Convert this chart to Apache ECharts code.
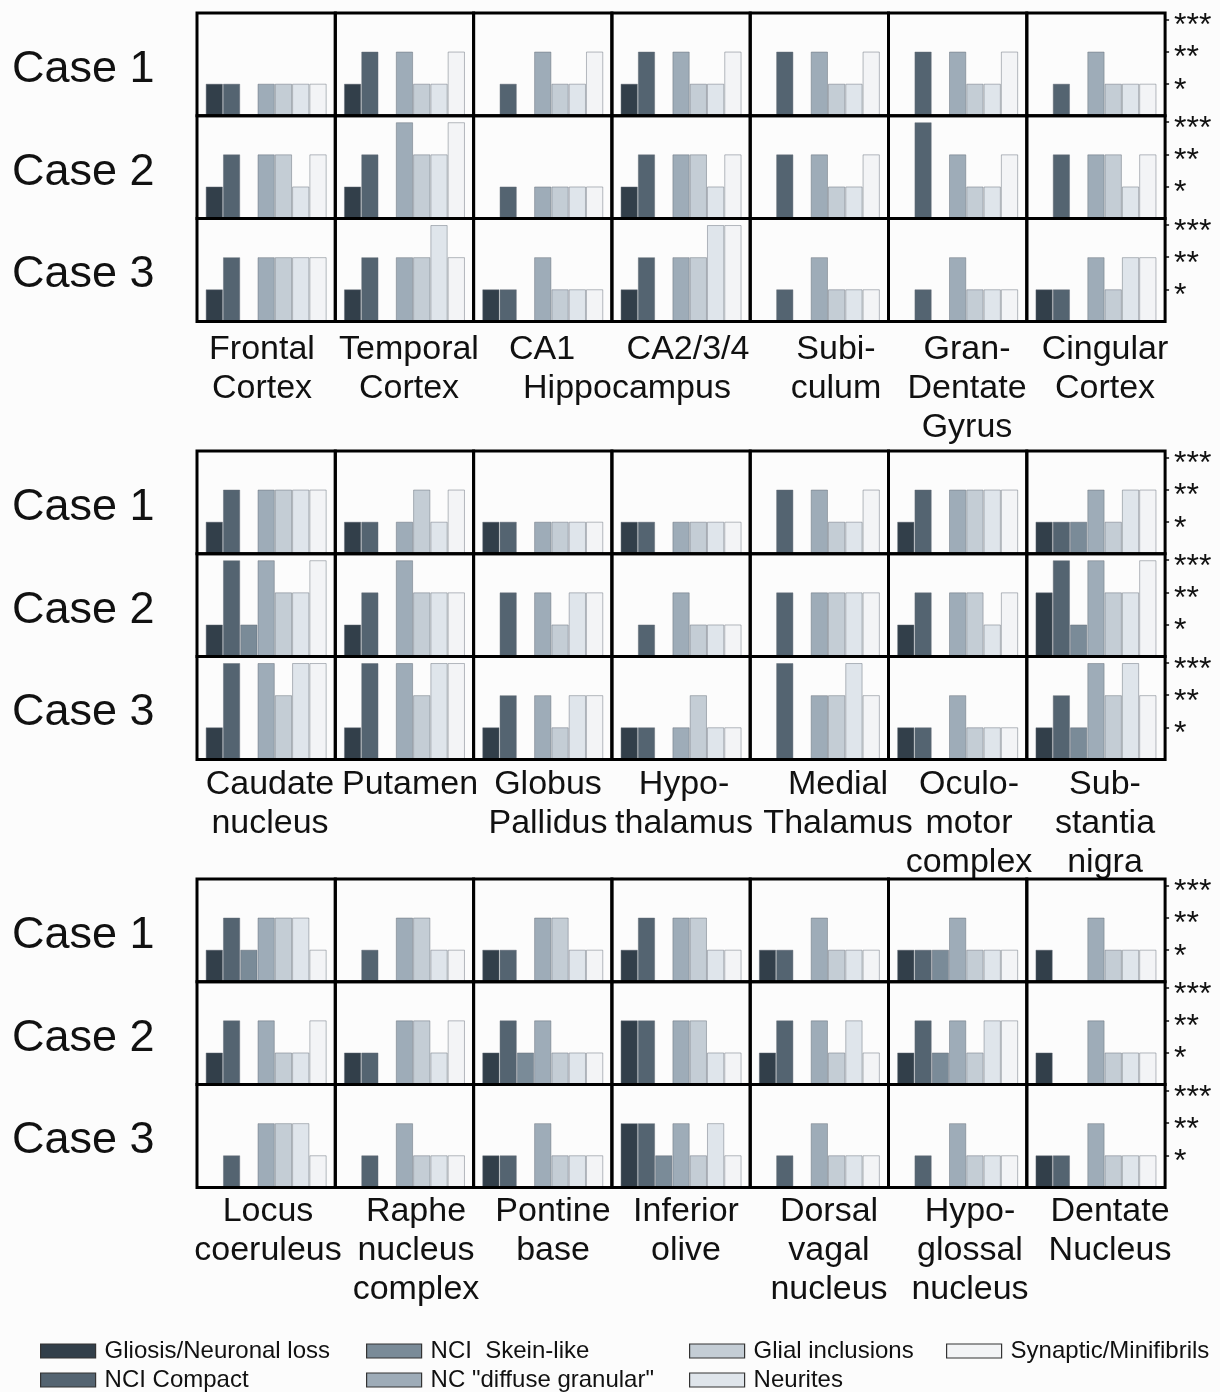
<!DOCTYPE html>
<html>
<head>
<meta charset="utf-8">
<script src="https://cdn.jsdelivr.net/npm/echarts@6/dist/echarts.min.js"></script>
<style>
  html, body { margin: 0; padding: 0; background: #fcfcfc; }
  #grafico { width: 1220px; height: 1392px; }
</style>
</head>
<body>
<div id="grafico"></div>
<script>
// categorias de lesion (orden de las barras en cada panel)
const categories = ['Gliosis/Neuronal loss', 'NCI Compact', 'NCI  Skein-like', 'NC "diffuse granular"',
                    'Glial inclusions', 'Neurites', 'Synaptic/Minifibrils'];
const caseNames = ['Case 1', 'Case 2', 'Case 3'];
const gradeLabels = ['', '*', '**', '***'];

// nombres de regiones por bloque
const regions1 = ['Frontal\nCortex', 'Temporal\nCortex', 'CA1', 'CA2/3/4', 'Subi-\nculum', 'Gran-\nDentate\nGyrus', 'Cingular\nCortex'];
const regions1Span = 'Hippocampus';
const regions2 = ['Caudate\nnucleus', 'Putamen', 'Globus\nPallidus', 'Hypo-\nthalamus', 'Medial\nThalamus', 'Oculo-\nmotor\ncomplex', 'Sub-\nstantia\nnigra'];
const regions3 = ['Locus\ncoeruleus', 'Raphe\nnucleus\ncomplex', 'Pontine\nbase', 'Inferior\nolive', 'Dorsal\nvagal\nnucleus', 'Hypo-\nglossal\nnucleus', 'Dentate\nNucleus'];

// grados (0-3) por region, un array por caso
const block1Case1 = [[1,1,0,1,1,1,1],[1,2,0,2,1,1,2],[0,1,0,2,1,1,2],[1,2,0,2,1,1,2],[0,2,0,2,1,1,2],[0,2,0,2,1,1,2],[0,1,0,2,1,1,1]];
const block1Case2 = [[1,2,0,2,2,1,2],[1,2,0,3,2,2,3],[0,1,0,1,1,1,1],[1,2,0,2,2,1,2],[0,2,0,2,1,1,2],[0,3,0,2,1,1,2],[0,2,0,2,2,1,2]];
const block1Case3 = [[1,2,0,2,2,2,2],[1,2,0,2,2,3,2],[1,1,0,2,1,1,1],[1,2,0,2,2,3,3],[0,1,0,2,1,1,1],[0,1,0,2,1,1,1],[1,1,0,2,1,2,2]];

const block2Case1 = [[1,2,0,2,2,2,2],[1,1,0,1,2,1,2],[1,1,0,1,1,1,1],[1,1,0,1,1,1,1],[0,2,0,2,1,1,2],[1,2,0,2,2,2,2],[1,1,1,2,1,2,2]];
const block2Case2 = [[1,3,1,3,2,2,3],[1,2,0,3,2,2,2],[0,2,0,2,1,2,2],[0,1,0,2,1,1,1],[0,2,0,2,2,2,2],[1,2,0,2,2,1,2],[2,3,1,3,2,2,3]];
const block2Case3 = [[1,3,0,3,2,3,3],[1,3,0,3,2,3,3],[1,2,0,2,1,2,2],[1,1,0,1,2,1,1],[0,3,0,2,2,3,2],[1,1,0,2,1,1,1],[1,2,1,3,2,3,2]];

const block3Case1 = [[1,2,1,2,2,2,1],[0,1,0,2,2,1,1],[1,1,0,2,2,1,1],[1,2,0,2,2,1,1],[1,1,0,2,1,1,1],[1,1,1,2,1,1,1],[1,0,0,2,1,1,1]];
const block3Case2 = [[1,2,0,2,1,1,2],[1,1,0,2,2,1,2],[1,2,1,2,1,1,1],[2,2,0,2,2,1,1],[1,2,0,2,1,2,1],[1,2,1,2,1,2,2],[1,0,0,2,1,1,1]];
const block3Case3 = [[0,1,0,2,2,2,1],[0,1,0,2,1,1,1],[1,1,0,2,1,1,1],[2,2,1,2,1,2,1],[0,1,0,2,1,1,1],[0,1,0,2,1,1,1],[1,1,0,2,1,1,1]];

const blocks = [
    [block1Case1, block1Case2, block1Case3],
    [block2Case1, block2Case2, block2Case3],
    [block3Case1, block3Case2, block3Case3]
];
const blockRegions = [regions1, regions2, regions3];

// estilo / disposicion
const colors = ['#323f4a', '#546471', '#7a8b98', '#9eacb8', '#c4cdd5', '#dfe5eb', '#f3f4f6'];
const FONT = 'Liberation Sans, Arial, sans-serif';
const left0 = 197, colW = 138.3, rowH = 102.8;
const blockTops = [13, 451, 879];
const labelGap = [9, 6, 5];
// centros horizontales de los nombres de region (px)
const labelX = [
    [262, 409, 542, 688, 836, 967, 1105],
    [270, 410, 548, 684, 838, 969, 1105],
    [268, 416, 553, 686, 829, 970, 1110]
];
const spanX = 627;

document.addEventListener('DOMContentLoaded', function () {
    var myChart = echarts.init(document.getElementById('grafico'));

    var grid = [], xAxis = [], yAxis = [], series = [], graphic = [];
    var k = 0;

    blocks.forEach(function (block, b) {
        block.forEach(function (caseData, r) {
            var top = blockTops[b] + r * rowH;
            // etiqueta "Case N"
            graphic.push({
                type: 'text', x: 12, y: top + rowH / 2 + 5,
                style: { text: caseNames[r], fontSize: 45, fontFamily: FONT, fill: '#111', verticalAlign: 'middle' }
            });
            caseData.forEach(function (vals, c) {
                grid.push({
                    left: left0 + c * colW, top: top, width: colW, height: rowH,
                    show: true, z: 5, backgroundColor: 'transparent',
                    borderColor: '#000', borderWidth: 3
                });
                xAxis.push({
                    type: 'value', gridIndex: k, min: -1, max: 7,
                    show: false
                });
                var last = c === caseData.length - 1;
                yAxis.push({
                    type: 'value', gridIndex: k, min: 0, max: 3.2, interval: 1,
                    position: 'right',
                    splitLine: { show: false },
                    axisLine: { show: false, onZero: false },
                    axisTick: { show: last, length: 4, inside: false, customValues: [1, 2, 3],
                                lineStyle: { color: '#111', width: 1.5 } },
                    axisLabel: {
                        show: last, customValues: [1, 2, 3], margin: 9,
                        fontSize: 32, fontFamily: FONT, color: '#111',
                        verticalAlign: 'top', lineHeight: 14,
                        formatter: function (v) { return gradeLabels[Math.round(v)] || ''; }
                    }
                });
                vals.forEach(function (v, i) {
                    series.push({
                        type: 'bar', name: categories[i],
                        xAxisIndex: k, yAxisIndex: k, stack: 'p' + k,
                        barWidth: colW / 8,
                        data: v ? [[i, v]] : [],
                        itemStyle: { color: colors[i], borderColor: 'rgba(95,105,115,0.45)', borderWidth: 1 },
                        silent: true
                    });
                });
                k++;
            });
        });

        // nombres de regiones bajo el bloque
        var bottom = blockTops[b] + 3 * rowH;
        blockRegions[b].forEach(function (name, c) {
            graphic.push({
                type: 'text', x: labelX[b][c], y: bottom + labelGap[b],
                style: { text: name, fontSize: 34, fontFamily: FONT, fill: '#111',
                         align: 'center', verticalAlign: 'top', lineHeight: 39 }
            });
        });
        if (b === 0) {
            graphic.push({
                type: 'text', x: spanX, y: bottom + labelGap[b] + 39,
                style: { text: regions1Span, fontSize: 34, fontFamily: FONT, fill: '#111',
                         align: 'center', verticalAlign: 'top', lineHeight: 39 }
            });
        }
    });

    // leyenda: 4 columnas x 2 filas, un componente por elemento
    var legendLefts = [40, 366, 689, 946];
    var legendTops = [1339, 1368];
    var legend = categories.map(function (name, i) {
        return {
            data: [name],
            left: legendLefts[Math.floor(i / 2)], top: legendTops[i % 2], padding: 0,
            itemWidth: 55, itemHeight: 14,
            icon: 'rect', selectedMode: false,
            itemStyle: { borderColor: '#333', borderWidth: 1.2 },
            textStyle: { fontSize: 24, lineHeight: 24, fontFamily: FONT, color: '#111', padding: [0, 0, 0, 4] }
        };
    });

    var option = {
        backgroundColor: '#fcfcfc',
        animation: false,
        legend: legend,
        grid: grid,
        xAxis: xAxis,
        yAxis: yAxis,
        series: series,
        graphic: graphic
    };

    myChart.setOption(option);
});
</script>
</body>
</html>
